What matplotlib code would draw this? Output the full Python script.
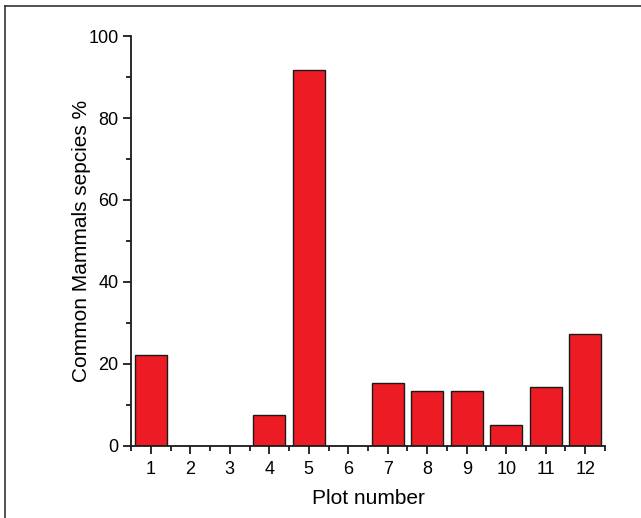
import numpy as np
import matplotlib.pyplot as plt
from matplotlib.lines import Line2D
from matplotlib.ticker import MultipleLocator

plt.rcParams['font.family'] = ['Liberation Sans', 'DejaVu Sans']

plots = np.arange(1, 13)
species_pct = [22.3, 0, 0, 7.6, 91.7, 0, 15.4, 13.3, 13.3, 5.0, 14.3, 27.3]

fig = plt.figure(figsize=(6.41, 5.18), dpi=100)
ax = fig.add_axes([0.2044, 0.139, 0.7394, 0.7915])

ax.bar(plots, species_pct, width=0.8, color='#ed1c24', edgecolor='#1a1a1a', linewidth=1.0)

ax.set_xlim(0.5, 12.5)
ax.set_ylim(0, 100)
ax.set_xticks(plots)
ax.xaxis.set_minor_locator(MultipleLocator(1, offset=0.5))
ax.yaxis.set_major_locator(MultipleLocator(20))
ax.yaxis.set_minor_locator(MultipleLocator(10))

for side in ['top', 'right']:
    ax.spines[side].set_visible(False)
for side in ['left', 'bottom']:
    ax.spines[side].set_linewidth(1.3)
    ax.spines[side].set_color('#1a1a1a')

ax.tick_params(which='major', direction='out', length=6, width=1.3, labelsize=13, pad=5, color='#1a1a1a')
ax.tick_params(axis='y', which='major', pad=3)
ax.tick_params(which='minor', direction='out', length=3.5, width=1.3, color='#1a1a1a')

ax.set_xlabel('Plot number', fontsize=15, labelpad=8)
ax.set_ylabel('Common Mammals sepcies %', fontsize=15, labelpad=-2)

# outer frame (top and left edges visible in the reference)
fig.add_artist(Line2D([5 / 641, 5 / 641], [0, 1 - 6 / 518], transform=fig.transFigure, color='#333333', lw=1.2))
fig.add_artist(Line2D([5 / 641, 1], [1 - 6 / 518, 1 - 6 / 518], transform=fig.transFigure, color='#333333', lw=1.2))

plt.savefig('out.png', dpi=100)
